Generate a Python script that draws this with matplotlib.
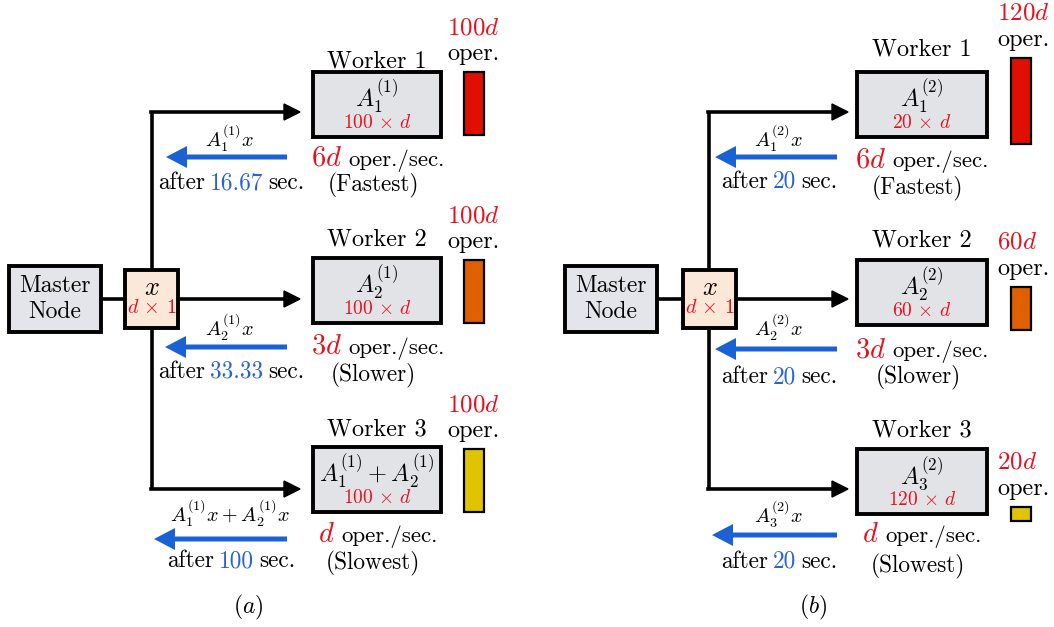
# Worker load diagram: (a) uncoded split, (b) load balanced by speed
import matplotlib.pyplot as plt
from matplotlib.patches import Rectangle, FancyArrow

plt.rcParams['mathtext.fontset'] = 'cm'
plt.rcParams['font.family'] = ['cmr10', 'DejaVu Serif']
plt.rcParams['axes.formatter.use_mathtext'] = True

# ---- data ----
speed_txt = [r'$6d$', r'$3d$', r'$d$']          # oper./sec.
ranks = ['(Fastest)', '(Slower)', '(Slowest)']
ops_a = [100, 100, 100]                          # total oper. per worker
ops_b = [120, 60, 20]
rows_a = [100, 100, 100]                         # rows of assigned block
rows_b = [20, 60, 120]
times_a = ['16.67', '33.33', '100']              # sec.
times_b = ['20', '20', '20']
tasks_a = [r'$A_1^{(1)}$', r'$A_2^{(1)}$', r'$A_1^{(1)} + A_2^{(1)}$']
tasks_b = [r'$A_1^{(2)}$', r'$A_2^{(2)}$', r'$A_3^{(2)}$']
results_a = [r'$A_1^{(1)}x$', r'$A_2^{(1)}x$', r'$A_1^{(1)}x + A_2^{(1)}x$']
results_b = [r'$A_1^{(2)}x$', r'$A_2^{(2)}x$', r'$A_3^{(2)}x$']
bar_colors = ['#e00f00', '#e06000', '#e0c400']

RED = '#e8101e'
BLUE = '#2a62d6'
ARROW_BLUE = '#1a62d4'

# ---- layout (pixel coordinates) ----
lay_a = dict(master_x=9, xbox_x=125, trunk=152, tip=300, wx=313, ww=128,
             wtop=[72, 258, 447], wlab=[61, 239, 429],
             bar_x=474, bar_bot=[135, 323, 512], scale=0.63, ops_x=447,
             ar_start=287, ar_end=[166, 165, 154], ar_y=[157, 347, 539],
             res_x=230, res_y=[138, 327, 513],
             aft_x=231, aft_base=[189, 378, 567],
             spd_x=378, spd_base=[166, 354, 542],
             rank_x=373, rank_y=[185, 375, 563], tag_x=248, tag='$(a)$')
lay_b = dict(master_x=565, xbox_x=683, trunk=709, tip=848, wx=857, ww=130,
             wtop=[72, 260, 449], wlab=[49, 240, 430],
             bar_x=1021, bar_bot=[144, 330, 521], scale=0.72, ops_x=997,
             ar_start=837, ar_end=[715, 715, 712], ar_y=[157, 349, 535],
             res_x=779, res_y=[138, 327, 514],
             aft_x=779, aft_base=[188, 383, 568],
             spd_x=922, spd_base=[167, 357, 542],
             rank_x=918, rank_y=[188, 377, 566], tag_x=813, tag='$(b)$')

fig = plt.figure(figsize=(10.54, 6.27), dpi=100)
ax = fig.add_axes([0, 0, 1, 1])
ax.set_xlim(0, 1054)
ax.set_ylim(627, 0)
ax.axis('off')
rend = fig.canvas.get_renderer()


def rich(x, y, parts, gap=5):
    # parts: (text, color, size); drawn left to right on one baseline, centred at x
    objs = []
    for s, c, fs in parts:
        t = ax.text(0, y, s, color=c, fontsize=fs, va='baseline', ha='left')
        objs.append(t)
    widths = [t.get_window_extent(rend).width for t in objs]
    total = sum(widths) + gap * (len(objs) - 1)
    cur = x - total / 2
    for t, w in zip(objs, widths):
        t.set_x(cur)
        cur += w + gap


def panel(L, ops, rows, times, tasks, results):
    # master node + x vector
    mx = L['master_x']
    ax.add_patch(Rectangle((mx, 266), 92, 66, fc='#e3e5ea', ec='k', lw=2.8, zorder=3))
    ax.text(mx + 46, 286, 'Master', fontsize=17, ha='center', va='center', zorder=4)
    ax.text(mx + 46, 312, 'Node', fontsize=17, ha='center', va='center', zorder=4)
    xb = L['xbox_x']
    ax.plot([mx + 92, xb], [299, 299], color='k', lw=2.6, zorder=2)
    ax.add_patch(Rectangle((xb, 270), 53, 58, fc='#fce8d8', ec='k', lw=2.8, zorder=3))
    ax.text(xb + 26.5, 288, '$x$', fontsize=19, ha='center', va='center', zorder=4)
    ax.text(xb + 26.5, 308, r'$d\,\times\,1$', fontsize=14.5, color=RED,
            ha='center', va='center', zorder=4)

    # trunk and black arrows to workers
    tr = L['trunk']
    ax.plot([tr, tr], [111, 490], color='k', lw=2.6, zorder=2, solid_capstyle='butt')
    for yy, x0 in [(112, tr - 1), (299, xb + 53), (489, tr - 1)]:
        ax.plot([x0, L['tip'] - 14], [yy, yy], color='k', lw=2.6, zorder=2)
        ax.add_patch(FancyArrow(L['tip'] - 16, yy, 16, 0, width=0.1, head_width=16,
                                head_length=16, length_includes_head=True,
                                color='k', zorder=2))

    for i in range(3):
        top = L['wtop'][i]
        cx = L['wx'] + L['ww'] / 2
        ax.add_patch(Rectangle((L['wx'], top), L['ww'], 65, fc='#e1e3e7', ec='k',
                               lw=2.8, zorder=3))
        ax.text(cx, L['wlab'][i], 'Worker %d' % (i + 1), fontsize=17.5,
                ha='center', va='center')
        ax.text(cx, top + 25, tasks[i], fontsize=17.5, ha='center', va='center', zorder=4)
        ax.text(cx, top + 51, r'$%d\,\times\,d$' % rows[i], fontsize=14, color=RED,
                ha='center', va='center', zorder=4)

        # returned result
        ys = L['ar_y'][i]
        x0, x1 = L['ar_start'], L['ar_end'][i]
        ax.add_patch(FancyArrow(x0, ys, x1 - x0, 0, width=5, head_width=22,
                                head_length=21, length_includes_head=True,
                                color=ARROW_BLUE, lw=0))
        ax.text(L['res_x'], L['res_y'][i], results[i], fontsize=14.5,
                ha='center', va='center')
        rich(L['aft_x'], L['aft_base'][i],
             [('after', 'k', 16.8), (times[i], BLUE, 16.8), ('sec.', 'k', 16.8)])
        rich(L['spd_x'], L['spd_base'][i],
             [(speed_txt[i], RED, 20.5), ('oper./sec.', 'k', 16.5)], gap=7)
        ax.text(L['rank_x'], L['rank_y'][i], ranks[i], fontsize=16.8,
                ha='center', va='center')

    # operation bars
    h = [o * L['scale'] for o in ops]
    ax.bar([L['bar_x']] * 3, [-v for v in h], bottom=L['bar_bot'], width=20,
           color=bar_colors, edgecolor='k', lw=1.6, zorder=3)
    for i in range(3):
        top = L['bar_bot'][i] - h[i]
        ax.text(L['ops_x'], top - 44, r'$%dd$' % ops[i], fontsize=18, color=RED,
                ha='left', va='center')
        ax.text(L['ops_x'], top - 18, 'oper.', fontsize=17.5, ha='left', va='center')

    ax.text(L['tag_x'], 607, L['tag'], fontsize=17, ha='center', va='center')


panel(lay_a, ops_a, rows_a, times_a, tasks_a, results_a)
panel(lay_b, ops_b, rows_b, times_b, tasks_b, results_b)

fig.savefig('out.png', dpi=100)
